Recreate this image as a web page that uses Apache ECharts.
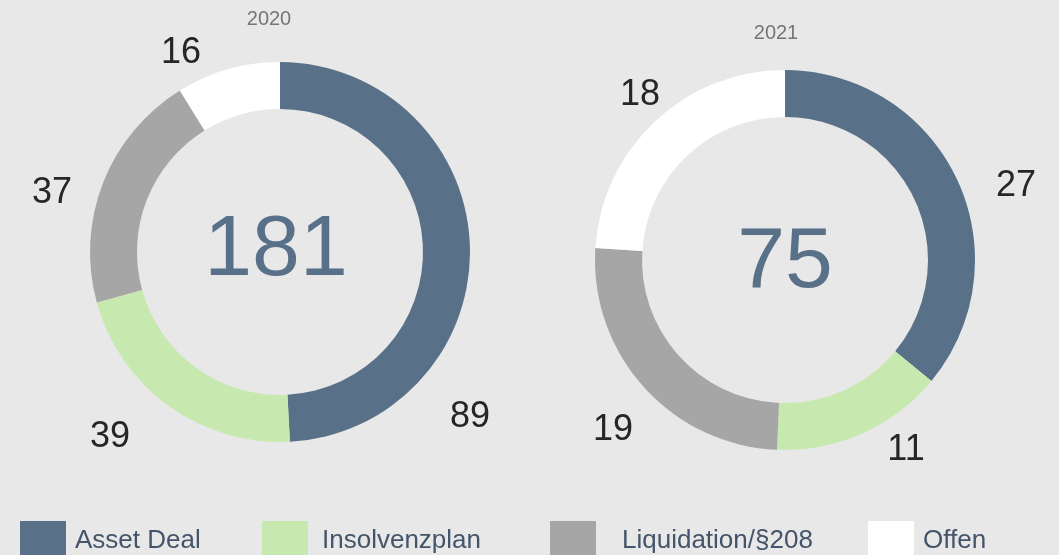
<!DOCTYPE html>
<html>
<head>
<meta charset="utf-8">
<script src="https://cdn.jsdelivr.net/npm/echarts@6/dist/echarts.min.js"></script>
<style>
  html, body { margin: 0; padding: 0; background: #e8e8e8; }
  #chart { width: 1059px; height: 555px; }
</style>
</head>
<body>
<div id="chart"></div>
<script>
// data
const categories = ['Asset Deal', 'Insolvenzplan', 'Liquidation/§208', 'Offen']
const years = ['2020', '2021']
const values2020 = [89, 39, 37, 16]
const values2021 = [27, 11, 19, 18]

const colors = ['#587088', '#c7e9af', '#a6a6a6', '#ffffff']
const font = 'Liberation Sans, Arial, sans-serif'

// layout
const centers = [[280, 252], [785, 260]]
const radius = [143, 190]
// label offsets from donut centre (Excel places them by hand)
const labelShift = [
  [[190, 165], [-170, 185], [-228, -59], [-99, -199]],
  [[231, -74], [121, 190], [-172, 170], [-145, -165]]
]
const titlePos = [[269, 19], [776, 33]]
const totalPos = [[276, 251], [785, 263]]
const legendLeft = [15, 257, 545, 863]
const legendTextGap = [4, 9, 21, 4]

const sum = arr => arr.reduce((a, b) => a + b, 0)
const allValues = [values2020, values2021]

const series = allValues.map((vals, s) => ({
  type: 'pie',
  center: centers[s],
  radius: radius,
  startAngle: 90,
  clockwise: true,
  avoidLabelOverlap: false,
  silent: true,
  label: {
    show: true,
    position: 'outside',
    formatter: '{c}',
    fontFamily: font,
    fontSize: 36,
    color: '#262626'
  },
  labelLine: { show: false },
  labelLayout: params => ({
    x: centers[s][0] + labelShift[s][params.dataIndex][0],
    y: centers[s][1] + labelShift[s][params.dataIndex][1],
    align: 'center',
    verticalAlign: 'middle'
  }),
  data: categories.map((name, i) => ({
    name: name,
    value: vals[i],
    itemStyle: { color: colors[i] }
  }))
}))

const graphic = []
years.forEach((y, s) => {
  graphic.push({
    type: 'text',
    x: titlePos[s][0],
    y: titlePos[s][1],
    style: {
      text: y,
      align: 'center',
      verticalAlign: 'middle',
      font: '20px ' + font,
      fill: '#767676'
    }
  })
  graphic.push({
    type: 'text',
    x: totalPos[s][0],
    y: totalPos[s][1],
    style: {
      text: String(sum(allValues[s])),
      align: 'center',
      verticalAlign: 'middle',
      font: '86px ' + font,
      fill: '#587088'
    }
  })
})

const legend = categories.map((name, i) => ({
  data: [name],
  left: legendLeft[i],
  top: 516,
  orient: 'horizontal',
  icon: 'rect',
  itemWidth: 46,
  itemHeight: 40,
  selectedMode: false,
  textStyle: {
    fontFamily: font,
    fontSize: 26,
    color: '#44546a',
    padding: [3, 0, 0, legendTextGap[i]]
  }
}))

const chart = echarts.init(document.getElementById('chart'))
chart.setOption({
  backgroundColor: '#e8e8e8',
  animation: false,
  legend: legend,
  graphic: graphic,
  series: series
})
window.addEventListener('resize', () => chart.resize())
</script>
</body>
</html>
